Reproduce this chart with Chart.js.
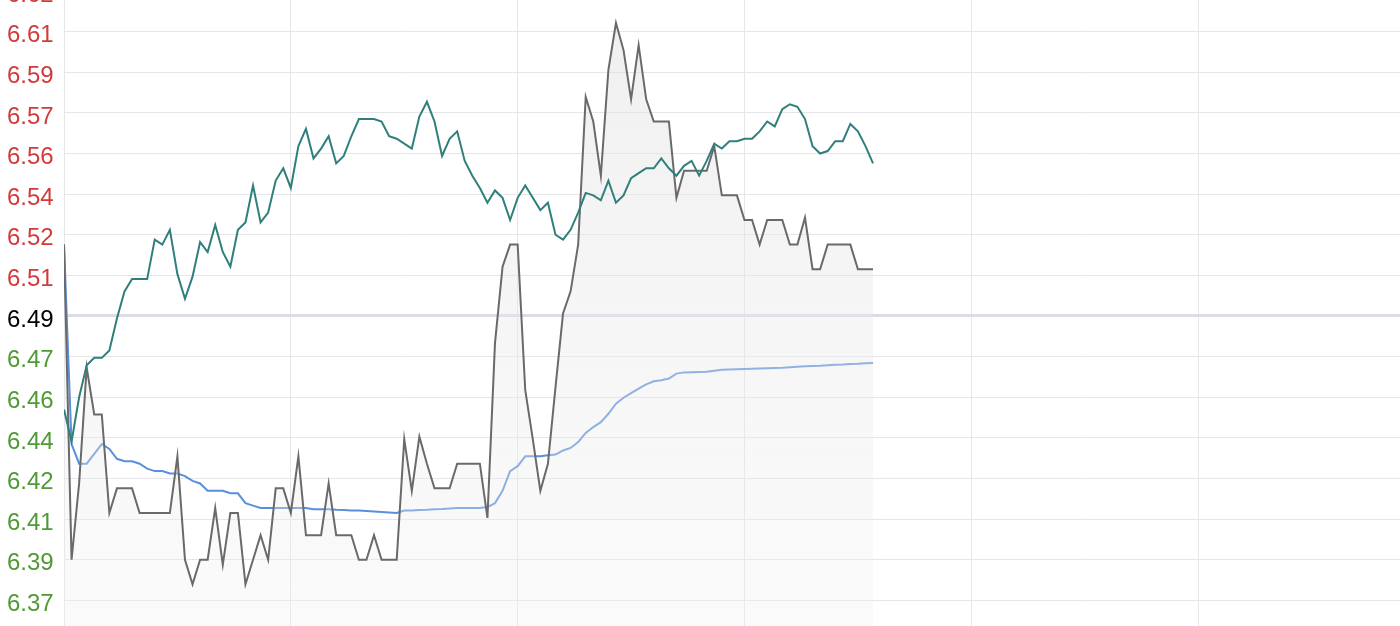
<!DOCTYPE html>
<html>
<head>
<meta charset="utf-8">
<script src="https://cdn.jsdelivr.net/npm/chart.js@4.4.1/dist/chart.umd.min.js"></script>
<style>
  html, body { margin: 0; padding: 0; background: #ffffff; overflow: hidden; width: 1400px; height: 626px; }
  #wrap { position: absolute; left: 0; top: -9px; width: 1425px; height: 650px; }
</style>
</head>
<body>
<div id="wrap"><canvas id="c" width="1425" height="650"></canvas></div>
<script>
// ---- data ----
const totalSlots = 180;            // full session length (x-axis slots)
const xGridTicks = [0, 30, 60, 90, 120, 150, 180];
const prevClose = 6.49;

const price = [
  6.519, 6.391, 6.422, 6.469, 6.450, 6.450, 6.410, 6.420, 6.420, 6.420,
  6.410, 6.410, 6.410, 6.410, 6.410, 6.433, 6.391, 6.381, 6.391, 6.391,
  6.412, 6.389, 6.410, 6.410, 6.381, 6.391, 6.401, 6.391, 6.420, 6.420,
  6.410, 6.433, 6.401, 6.401, 6.401, 6.422, 6.401, 6.401, 6.401, 6.391,
  6.391, 6.401, 6.391, 6.391, 6.391, 6.440, 6.419, 6.441, 6.430, 6.420,
  6.420, 6.420, 6.430, 6.430, 6.430, 6.430, 6.408, 6.479, 6.510, 6.519,
  6.519, 6.460, 6.440, 6.419, 6.430, 6.461, 6.491, 6.500, 6.519, 6.579,
  6.569, 6.547, 6.590, 6.609, 6.598, 6.578, 6.600, 6.578, 6.569, 6.569,
  6.569, 6.538, 6.549, 6.549, 6.549, 6.549, 6.559, 6.539, 6.539, 6.539,
  6.529, 6.529, 6.519, 6.529, 6.529, 6.529, 6.519, 6.519, 6.530, 6.509,
  6.509, 6.519, 6.519, 6.519, 6.519, 6.509, 6.509, 6.509
];

const avgPrice = [
  6.519, 6.438, 6.430, 6.430, 6.434, 6.438, 6.436, 6.432, 6.431, 6.431,
  6.430, 6.428, 6.427, 6.427, 6.426, 6.426, 6.425, 6.423, 6.422, 6.419,
  6.419, 6.419, 6.418, 6.418, 6.414, 6.413, 6.412, 6.412, 6.412, 6.412,
  6.412, 6.412, 6.412, 6.4115, 6.4115, 6.4115, 6.4113, 6.4112, 6.411, 6.411,
  6.4108, 6.4106, 6.4104, 6.4102, 6.410, 6.411, 6.411, 6.4112, 6.4113, 6.4115,
  6.4116, 6.4118, 6.412, 6.412, 6.412, 6.412, 6.4124, 6.414, 6.419, 6.427,
  6.429, 6.433, 6.433, 6.433, 6.4334, 6.4337, 6.4354, 6.4364, 6.4388, 6.4425,
  6.4449, 6.4469, 6.4503, 6.4544, 6.4568, 6.4587, 6.4605, 6.4622, 6.4635, 6.4639,
  6.4646, 6.4666, 6.4671, 6.4672, 6.4673, 6.4674, 6.4678, 6.4682, 6.4683, 6.4684,
  6.4685, 6.4686, 6.4687, 6.4688, 6.4689, 6.4690, 6.4692, 6.4694, 6.4696, 6.4697,
  6.4698, 6.4700, 6.4702, 6.4703, 6.4705, 6.4706, 6.4708, 6.4709
];

const refSeries = [
  6.452, 6.439, 6.457, 6.470, 6.473, 6.473, 6.476, 6.489, 6.500, 6.505,
  6.505, 6.505, 6.521, 6.519, 6.525, 6.507, 6.497, 6.506, 6.520, 6.516,
  6.527, 6.516, 6.510, 6.525, 6.528, 6.543, 6.528, 6.532, 6.545, 6.550,
  6.542, 6.559, 6.566, 6.554, 6.558, 6.563, 6.552, 6.555, 6.563, 6.570,
  6.570, 6.570, 6.569, 6.563, 6.562, 6.560, 6.558, 6.571, 6.577, 6.569,
  6.555, 6.562, 6.565, 6.553, 6.547, 6.542, 6.536, 6.541, 6.538, 6.529,
  6.538, 6.543, 6.538, 6.533, 6.536, 6.523, 6.521, 6.525, 6.532, 6.540,
  6.539, 6.537, 6.545, 6.536, 6.539, 6.546, 6.548, 6.550, 6.550, 6.554,
  6.550, 6.547, 6.551, 6.553, 6.547, 6.553, 6.560, 6.558, 6.561, 6.561,
  6.562, 6.562, 6.565, 6.569, 6.567, 6.574, 6.576, 6.575, 6.570, 6.559,
  6.556, 6.557, 6.561, 6.561, 6.568, 6.565, 6.559, 6.552
];

const yTickValues = [6.358, 6.3745, 6.391, 6.4075, 6.424, 6.4405, 6.457, 6.4735, 6.49,
                     6.5065, 6.523, 6.5395, 6.556, 6.5725, 6.589, 6.6055, 6.622];
const yTickLabels = ['6.36', '6.37', '6.39', '6.41', '6.42', '6.44', '6.46', '6.47', '6.49',
                     '6.51', '6.52', '6.54', '6.56', '6.57', '6.59', '6.61', '6.62'];

// ---- chart ----
const toXY = arr => arr.map((v, i) => ({ x: i, y: v }));
const baseIndex = yTickValues.indexOf(prevClose);

const ctx = document.getElementById('c').getContext('2d');

function fillGradient(context) {
  const chart = context.chart;
  const area = chart.chartArea;
  if (!area) return 'rgba(230,230,230,0.45)';
  const g = chart.ctx.createLinearGradient(0, area.top, 0, area.bottom);
  g.addColorStop(0, 'rgba(224,224,224,0.5)');
  g.addColorStop(1, 'rgba(240,240,240,0.3)');
  return g;
}

new Chart(ctx, {
  type: 'line',
  data: {
    datasets: [
      {
        label: 'ref',
        data: toXY(refSeries),
        borderColor: '#2f7f7b',
        borderWidth: 2,
        pointRadius: 0,
        tension: 0,
        fill: false
      },
      {
        label: 'price',
        data: toXY(price),
        borderColor: '#6a6a6a',
        borderWidth: 2,
        pointRadius: 0,
        tension: 0,
        fill: 'start',
        backgroundColor: fillGradient
      },
      {
        label: 'avg',
        data: toXY(avgPrice),
        borderColor: '#5a8fdc',
        borderWidth: 2,
        pointRadius: 0,
        tension: 0,
        fill: false
      }
    ]
  },
  options: {
    responsive: false,
    animation: false,
    events: [],
    layout: { padding: { left: 7, right: 0, top: 0, bottom: 0 } },
    plugins: { legend: { display: false }, tooltip: { enabled: false } },
    scales: {
      x: {
        type: 'linear',
        min: 0,
        max: totalSlots,
        afterBuildTicks: s => { s.ticks = xGridTicks.map(v => ({ value: v })); },
        ticks: { display: false },
        border: { display: false },
        grid: { color: '#e6e6ec', lineWidth: 1, drawTicks: false }
      },
      y: {
        type: 'linear',
        position: 'left',
        min: yTickValues[0],
        max: yTickValues[yTickValues.length - 1],
        afterBuildTicks: s => { s.ticks = yTickValues.map(v => ({ value: v })); },
        afterFit: s => { s.width = 57; s.paddingTop = 0; s.paddingBottom = 0; },
        border: { display: false },
        grid: {
          drawTicks: false,
          color: c => c.index === baseIndex ? '#dcdce6' : '#e6e6ea',
          lineWidth: c => c.index === baseIndex ? 3 : 1
        },
        ticks: {
          crossAlign: 'far',
          padding: 0,
          labelOffset: 4,
          autoSkip: false,
          font: { family: '"Liberation Sans", Arial, sans-serif', size: 24 },
          color: c => c.index === baseIndex ? '#000000' : (c.index > baseIndex ? '#d23b3b' : '#4f9a34'),
          callback: (value, index) => yTickLabels[index]
        }
      }
    }
  }
});
</script>
</body>
</html>
